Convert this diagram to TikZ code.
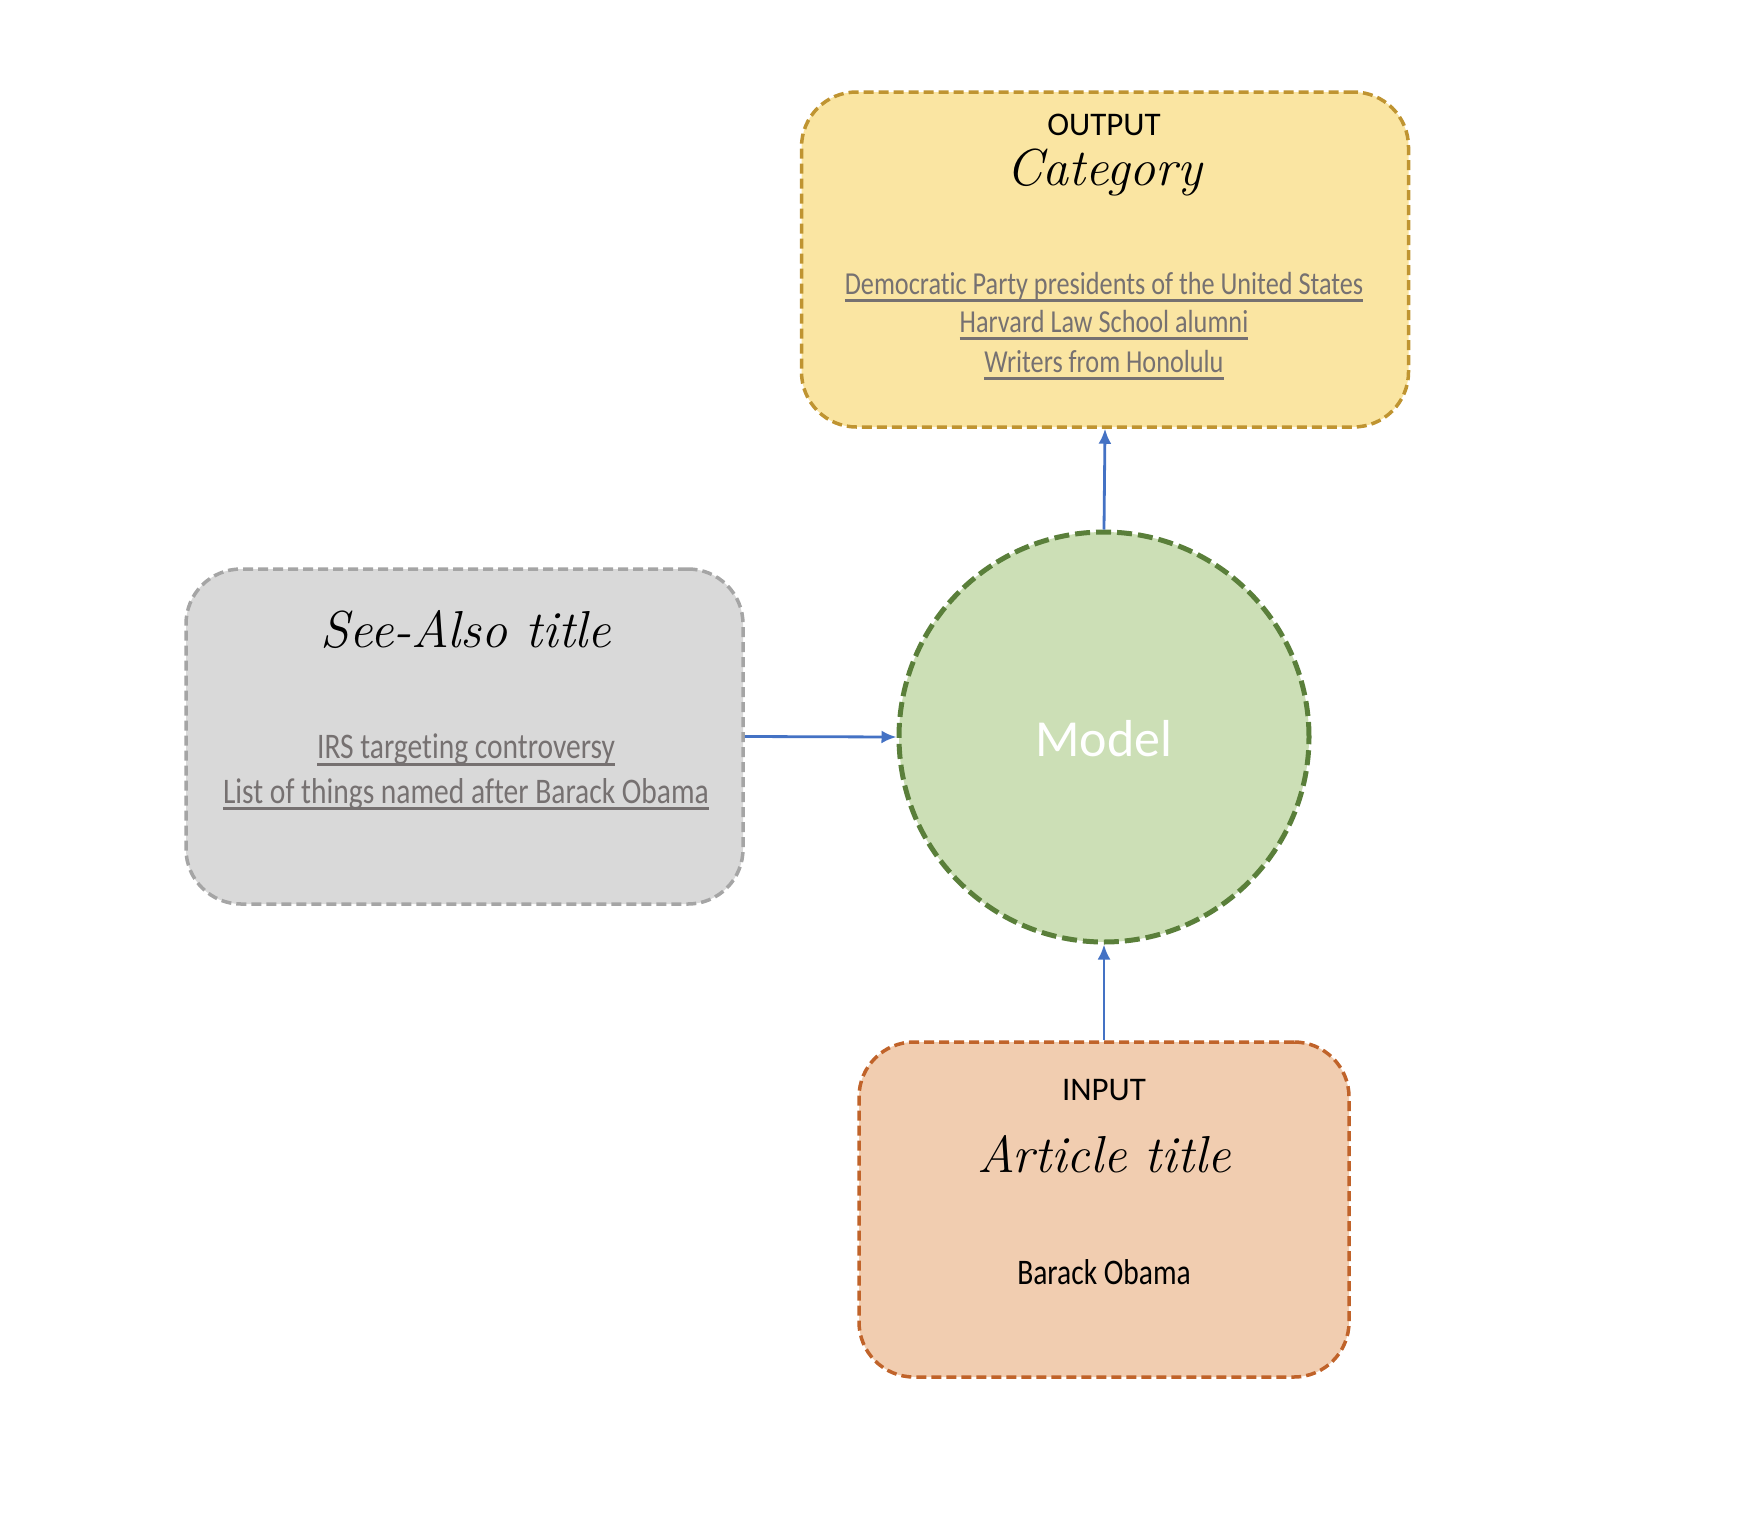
\documentclass[tikz,border=0pt]{standalone}
\usepackage{fontspec}
\usetikzlibrary{arrows.meta}
\newfontfamily\calfont{Carlito}
\newfontfamily\condfont{Carlito}[FakeStretch=0.82,Ligatures=NoCommon]
\newcommand\myul[1]{\setbox0=\hbox{#1}\leavevmode\rlap{\rule[-7pt]{\wd0}{2.6pt}}\box0}
\definecolor{outfill}{HTML}{FAE5A2}
\definecolor{outdraw}{HTML}{BF9431}
\definecolor{grayfill}{HTML}{D9D9D9}
\definecolor{graydraw}{HTML}{A5A5A5}
\definecolor{modfill}{HTML}{CCDFB6}
\definecolor{moddraw}{HTML}{5A7F3A}
\definecolor{infill}{HTML}{F1CDB0}
\definecolor{indraw}{HTML}{C0632A}
\definecolor{arrowblue}{HTML}{4472C4}
\definecolor{linkgray}{HTML}{767171}
\tikzset{
  boxshape/.style={draw, rectangle, rounded corners=55pt, line width=3.5pt, dash pattern=on 10pt off 5pt, inner sep=0pt},
  headtext/.style={font=\calfont\fontsize{33}{36}\selectfont, text=black, inner sep=0pt},
  titletext/.style={font=\itshape\fontsize{52}{56}\selectfont, text=black, inner sep=0pt},
  linktext/.style={font=\condfont\fontsize{32}{39}\selectfont, text=linkgray, inner sep=0pt, align=center},
  biglink/.style={font=\condfont\fontsize{36}{42}\selectfont, text=linkgray, inner sep=0pt, align=center},
  conn/.style={draw=arrowblue, line width=2.8pt, -{Latex[length=15pt,width=13pt]}},
}
\begin{document}
\begin{tikzpicture}[x=1pt,y=-1pt]
\useasboundingbox (0,0) rectangle (1740,1523);
% output box
\node[boxshape, fill=outfill, draw=outdraw, minimum width=607pt, minimum height=335pt] (out) at (1105,259.5) {};
\node[headtext] (outlbl) at (1104,125) {OUTPUT};
\node[titletext] (outtitle) at (1104,172) {Category};
\node[linktext] (outlink1) at (1104,287) {\myul{Democratic Party presidents of the United States}};
\node[linktext] (outlink2) at (1104,325) {\myul{Harvard Law School alumni}};
\node[linktext] (outlink3) at (1104,365) {\myul{Writers from Honolulu}};
% model
\node[draw=moddraw, fill=modfill, circle, minimum size=410pt, line width=5pt, dash pattern=on 15pt off 6pt, inner sep=0pt] (model) at (1104,737) {};
\node[font=\calfont\fontsize{52}{56}\selectfont, text=white, inner sep=0pt] (modellbl) at (1104,739) {Model};
% see also box
\node[boxshape, fill=grayfill, draw=graydraw, minimum width=557pt, minimum height=335pt] (see) at (464.5,736.5) {};
\node[titletext] (seetitle) at (466,629) {See-Also title};
\node[biglink] (seelink1) at (466,750) {\myul{IRS targeting controversy}};
\node[biglink] (seelink2) at (466,794) {\myul{List of things named after Barack Obama}};
% input box
\node[boxshape, fill=infill, draw=indraw, minimum width=490pt, minimum height=335pt] (in) at (1104,1209.5) {};
\node[headtext] (inlbl) at (1104,1090) {INPUT};
\node[titletext] (intitle) at (1104,1154) {Article title};
\node[biglink, text=black] (inval) at (1104,1272) {Barack Obama};
% connectors
\draw[conn] (see.east) -- (model.west);
\draw[conn] (model.north) -- (out.south);
\draw[conn] (in.north) -- (model.south);
\end{tikzpicture}
\end{document}
